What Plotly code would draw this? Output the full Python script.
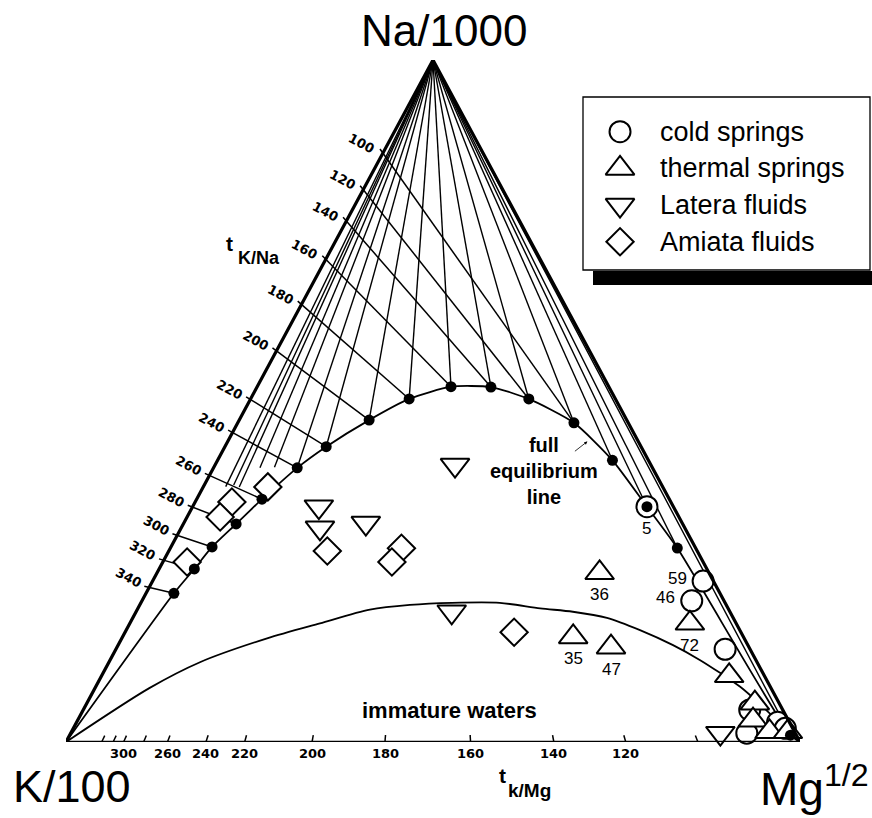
import plotly.graph_objects as go

# ---------------------------------------------------------------------------
# Giggenbach Na-K-Mg diagram.  All compositions are given as percentages of
# Na/1000, K/100 and Mg^1/2 (normalised again when plotted).
# ---------------------------------------------------------------------------

# full equilibrium line: temperature (deg C) and composition of each point
eq_temp = [340, 320, 300, 280, 260, 240, 220, 200, 180, 160, 140, 120, 100, 80, 60, 40, 20]
eq_na = [21.8, 25.4, 28.6, 32.0, 35.6, 40.2, 43.3, 47.2, 50.3, 52.1, 52.1, 50.3, 46.8, 41.3, 34.5, 28.4, 1.0]
eq_k = [74.4, 69.9, 65.8, 60.9, 55.5, 48.4, 42.9, 35.1, 28.1, 21.5, 16.1, 11.8, 7.4, 4.9, 3.6, 2.5, 0.8]
eq_mg = [3.8, 4.8, 5.6, 7.2, 8.9, 11.4, 13.8, 17.7, 21.6, 26.4, 31.9, 37.9, 45.8, 53.8, 61.9, 69.0, 98.2]

# K/Na geothermometer scale (Na-K side)
tkna_temps = [100, 120, 140, 160, 180, 200, 220, 240, 260, 280, 300, 320, 340]
# K/Mg geothermometer scale (K-Mg side) and its printed labels
tkmg_temps = [340, 320, 300, 280, 260, 240, 220, 200, 180, 160, 140, 120, 100]
tkmg_labels = ["", "", "300", "", "260", "240", "220", "200", "180", "160", "140", "120", ""]
# K/Mg isotherms drawn from the Na corner, with the drawn share of each line
apex_temps = [340, 320, 300, 280, 260, 240, 220, 200, 180, 160, 140, 120, 100, 80, 60, 40, 20]
apex_reach = {340: 0.80, 320: 0.835, 300: 0.877, 280: 0.879, 260: 0.927}

# boundary of the immature waters field
imm_na = [0.0, 7.9, 11.7, 15.2, 17.4, 19.4, 20.1, 20.4, 20.4, 19.6, 19.1, 18.2, 16.4, 14.2, 12.0, 10.1, 8.1, 6.2, 3.5, 0.0]
imm_k = [100.0, 84.7, 75.9, 65.0, 56.7, 48.9, 43.1, 37.2, 30.7, 25.6, 21.4, 17.2, 13.6, 10.2, 7.6, 5.8, 4.1, 3.0, 1.7, 0.0]
imm_mg = [0.0, 7.4, 12.4, 19.8, 25.9, 31.7, 36.8, 42.4, 48.9, 54.8, 59.5, 64.6, 70.0, 75.6, 80.4, 84.1, 87.8, 90.8, 94.8, 100.0]

# samples
cold_na = [34.5, 23.6, 20.7, 13.6, 4.7, 1.3, 2.9, 2.0]
cold_k = [3.6, 1.4, 4.4, 3.4, 4.5, 6.6, 1.6, 1.0]
cold_mg = [61.9, 75.0, 74.9, 83.0, 90.8, 92.1, 95.5, 97.0]
cold_id = ["5", "59", "46", "", "", "", "", ""]
cold_pos = ["below", "left", "left", "", "", "", "", ""]

thermal_na = [24.8, 15.4, 13.9, 17.4, 9.7, 5.7, 3.2, 1.5, 1.5]
thermal_k = [14.9, 23.2, 18.8, 6.3, 4.8, 3.3, 4.8, 3.4, 0.9]
thermal_mg = [60.3, 61.4, 67.3, 76.3, 85.5, 91.0, 92.0, 95.1, 97.6]
thermal_id = ["36", "35", "47", "72", "", "", "", "", ""]
thermal_pos = ["below", "below", "below", "below", "", "", "", "", ""]

latera_na = [40.6, 34.5, 31.4, 32.1, 19.1, 1.3]
latera_k = [26.7, 48.3, 49.7, 43.1, 37.9, 10.2]
latera_mg = [32.7, 17.2, 18.9, 24.8, 43.0, 88.5]

amiata_na = [37.4, 35.2, 33.0, 26.4, 28.0, 28.4, 26.4, 16.1]
amiata_k = [53.8, 59.8, 62.5, 70.3, 50.4, 40.1, 42.4, 30.9]
amiata_mg = [8.8, 5.0, 4.5, 3.3, 21.6, 31.5, 31.2, 53.0]

legend_names = ["cold springs", "thermal springs", "Latera fluids", "Amiata fluids"]

# ---------------------------------------------------------------------------
W, H = 872, 818
ML, MR, MT, MB = 66, 72, 60, 76          # triangle frame inside the page
PW, PH = W - ML - MR, H - MT - MB

FONT = "Liberation Sans, Arial, Helvetica, sans-serif"
TICKFONT = "DejaVu Sans, Verdana, sans-serif"

SYM = {
    "cold": dict(symbol="circle", size=21),
    "thermal": dict(symbol="triangle-up", size=25),
    "latera": dict(symbol="triangle-down", size=25),
    "amiata": dict(symbol="diamond", size=21),
}


def xy(na, k, mg):
    s = na + k + mg
    return (mg + 0.5 * na) / s, na / s


def many(na, k, mg):
    xs, ys = [], []
    for a, b, c in zip(na, k, mg):
        x, y = xy(a, b, c)
        xs.append(x)
        ys.append(y)
    return xs, ys


def step(p, q, dist):
    """Point dist pixels from p, on the far side from q."""
    dx, dy = (p[0] - q[0]) * PW, (p[1] - q[1]) * PH
    n = (dx * dx + dy * dy) ** 0.5
    return p[0] + dist * dx / n / PW, p[1] + dist * dy / n / PH


def P(px, py):
    return px / W, 1 - py / H


eq = {t: (a, b, c) for t, a, b, c in zip(eq_temp, eq_na, eq_k, eq_mg)}
eq_xy = {t: xy(*eq[t]) for t in eq_temp}
NA_V, K_V, MG_V = xy(100, 0, 0), xy(0, 100, 0), xy(0, 0, 100)

fig = go.Figure()


def segs(pairs, width, color="black"):
    xs, ys = [], []
    for p, q in pairs:
        xs += [p[0], q[0], None]
        ys += [p[1], q[1], None]
    fig.add_trace(go.Scatter(x=xs, y=ys, mode="lines", hoverinfo="skip",
                             line=dict(color=color, width=width), cliponaxis=False))


# K/Na isotherms from the Na-K side towards the equilibrium points
kna_pairs, kna_lab = [], []
for t in tkna_temps:
    na, k, mg = eq[t]
    side = xy(na, k, 0)
    tip = step(side, eq_xy[t], 5)
    kna_pairs.append((tip, eq_xy[t]))
    kna_lab.append((side, t))
segs(kna_pairs, 1.5)

# K/Mg isotherms radiating from the Na corner
apex_pairs = []
for t in apex_temps:
    d = eq_xy[t]
    r = apex_reach.get(t, 1.0)
    end = (NA_V[0] + r * (d[0] - NA_V[0]), NA_V[1] + r * (d[1] - NA_V[1]))
    apex_pairs.append((NA_V, end))
segs(apex_pairs, 1.4)

# K/Mg scale ticks on the base
base_pairs, base_lab = [], []
for t, lab in zip(tkmg_temps, tkmg_labels):
    na, k, mg = eq[t]
    b = xy(0, k, mg)
    base_pairs.append((b, step(b, NA_V, -7)))
    base_lab.append((b, lab))
segs(base_pairs, 1.5)

# full equilibrium line
ex = [K_V[0]] + [eq_xy[t][0] for t in eq_temp] + [MG_V[0]]
ey = [K_V[1]] + [eq_xy[t][1] for t in eq_temp] + [MG_V[1]]
fig.add_trace(go.Scatter(x=ex, y=ey, mode="lines", hoverinfo="skip", cliponaxis=False,
                         line=dict(color="black", width=1.8, shape="spline", smoothing=0.6)))

# immature waters boundary
ix, iy = many(imm_na, imm_k, imm_mg)
fig.add_trace(go.Scatter(x=ix, y=iy, mode="lines", hoverinfo="skip", cliponaxis=False,
                         line=dict(color="black", width=1.8, shape="spline", smoothing=0.8)))

# samples
groups = [
    ("cold", cold_na, cold_k, cold_mg),
    ("thermal", thermal_na, thermal_k, thermal_mg),
    ("latera", latera_na, latera_k, latera_mg),
    ("amiata", amiata_na, amiata_k, amiata_mg),
]
for key, a, b, c in groups:
    gx, gy = many(a, b, c)
    fig.add_trace(go.Scatter(
        x=gx, y=gy, mode="markers", cliponaxis=False, hoverinfo="skip",
        marker=dict(color="white", line=dict(color="black", width=2), **SYM[key])))

# equilibrium points
fig.add_trace(go.Scatter(
    x=[eq_xy[t][0] for t in eq_temp], y=[eq_xy[t][1] for t in eq_temp],
    mode="markers", cliponaxis=False, hoverinfo="skip",
    marker=dict(symbol="circle", size=11, color="black")))

# triangle outline
fig.add_trace(go.Scatter(x=[K_V[0], NA_V[0], MG_V[0]], y=[K_V[1], NA_V[1], MG_V[1]],
                         mode="lines", hoverinfo="skip", cliponaxis=False,
                         line=dict(color="black", width=3.2)))
fig.add_trace(go.Scatter(x=[K_V[0], MG_V[0]], y=[K_V[1], MG_V[1]],
                         mode="lines", hoverinfo="skip", cliponaxis=False,
                         line=dict(color="black", width=2.4)))

ann = []
# temperature labels on the K/Na scale
for side, t in kna_lab:
    ann.append(dict(x=side[0], y=side[1], xref="x", yref="y", text=f"<b>{t}</b>",
                    showarrow=False, xshift=-21, yshift=10, textangle=28,
                    font=dict(family=TICKFONT, size=13, color="black")))
# temperature labels on the K/Mg scale
for b, lab in base_lab:
    if lab:
        ann.append(dict(x=b[0], y=0, xref="x", yref="y", text=f"<b>{lab}</b>",
                        showarrow=False, yshift=-11,
                        font=dict(family=TICKFONT, size=13, color="black")))

# sample numbers
for a, b, c, ids, pos in [(cold_na, cold_k, cold_mg, cold_id, cold_pos),
                          (thermal_na, thermal_k, thermal_mg, thermal_id, thermal_pos)]:
    for na, k, mg, s, p in zip(a, b, c, ids, pos):
        if not s:
            continue
        x, y = xy(na, k, mg)
        sh = dict(yshift=-22) if p == "below" else dict(xshift=-26, yshift=3)
        ann.append(dict(x=x, y=y, xref="x", yref="y", text=s, showarrow=False,
                        font=dict(family=FONT, size=17, color="black"), **sh))

# arrow pointing at the equilibrium line
p100, p80 = eq_xy[100], eq_xy[80]
tgt = (p100[0] + 0.35 * (p80[0] - p100[0]), p100[1] + 0.35 * (p80[1] - p100[1]))
ann.append(dict(x=tgt[0], y=tgt[1] - 0.008, xref="x", yref="y", text="", showarrow=True,
                ax=-14, ay=11, arrowhead=2, arrowsize=0.8, arrowwidth=0.8, arrowcolor="black"))


def label(px, py, text, size, anchor="center", family=FONT, bold=False, yanchor="middle"):
    x, y = P(px, py)
    t = f"<b>{text}</b>" if bold else text
    ann.append(dict(x=x, y=y, xref="paper", yref="paper", text=t, showarrow=False,
                    xanchor=anchor, yanchor=yanchor,
                    font=dict(family=family, size=size, color="black")))


label(544, 471, "full<br>equilibrium<br>line", 20, bold=True)
label(450, 710, "immature waters", 22, bold=True)

label(444, 30, "Na/1000", 44)
label(72, 786, "K/100", 45)
label(758, 817, "Mg<sup>1/2</sup>", 46, anchor="left", yanchor="bottom")

label(224, 243, "t", 21, anchor="left", bold=True)
label(236, 258, "K/Na", 18, anchor="left", bold=True)
label(497, 775, "t", 21, anchor="left", bold=True)
label(506, 790, "k/Mg", 19, anchor="left", bold=True)

# legend panel
lx0, lx1, ly0, ly1 = 583, 870, 97, 270
shapes = [
    dict(type="rect", xref="paper", yref="paper", x0=593 / W, x1=1.02,
         y0=1 - 285 / H, y1=1 - 271 / H, fillcolor="black", line=dict(width=0), layer="below"),
    dict(type="rect", xref="paper", yref="paper", x0=lx0 / W, x1=lx1 / W,
         y0=1 - ly1 / H, y1=1 - ly0 / H, fillcolor="white",
         line=dict(color="black", width=1.3), layer="below"),
]
row0, row_gap = 131.7, 36.7
keys = ["cold", "thermal", "latera", "amiata"]
for i, (key, name) in enumerate(zip(keys, legend_names)):
    fig.add_trace(go.Scatter(
        x=[0.129], y=[i], xaxis="x2", yaxis="y2", mode="markers", hoverinfo="skip",
        cliponaxis=False,
        marker=dict(color="white", line=dict(color="black", width=2), **SYM[key])))
    ann.append(dict(x=0.262, y=i, xref="x2", yref="y2", text=name, showarrow=False,
                    xanchor="left", yanchor="middle",
                    font=dict(family=FONT, size=27, color="black")))

fig.update_layout(
    width=W, height=H, autosize=False,
    margin=dict(l=0, r=0, t=0, b=0, pad=0),
    paper_bgcolor="white", plot_bgcolor="rgba(0,0,0,0)",
    showlegend=False,
    xaxis=dict(domain=[ML / W, (W - MR) / W], range=[0, 1], visible=False, fixedrange=True),
    yaxis=dict(domain=[MB / H, 1 - MT / H], range=[0, 1], visible=False, fixedrange=True),
    xaxis2=dict(domain=[lx0 / W, lx1 / W], range=[0, 1], anchor="y2",
                visible=False, fixedrange=True),
    yaxis2=dict(domain=[1 - ly1 / H, 1 - ly0 / H],
                range=[(ly1 - row0) / row_gap, (ly0 - row0) / row_gap],
                anchor="x2", visible=False, fixedrange=True),
    annotations=ann,
    shapes=shapes,
)

fig.write_html("out.html", config={"displayModeBar": False})
